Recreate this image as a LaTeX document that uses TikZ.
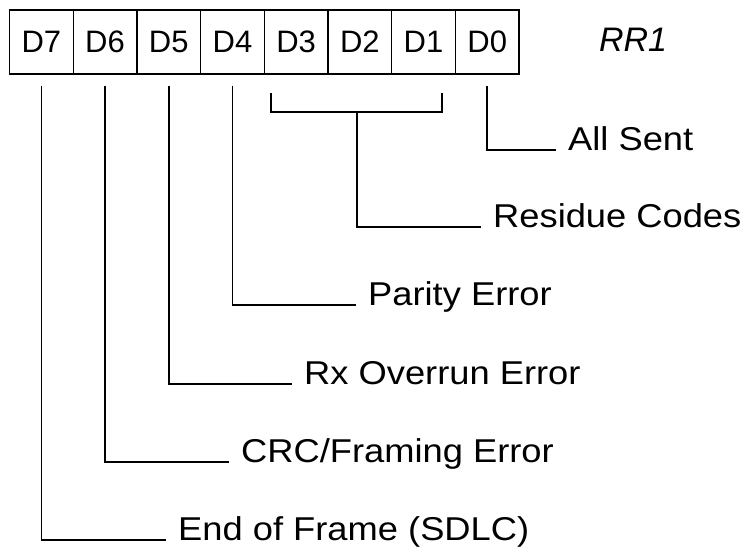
\documentclass[tikz,border=0pt]{standalone}
\usepackage{fontspec}
\setmainfont{Liberation Sans}
\newfontfamily\labfont[FakeStretch=1.1]{Liberation Sans}
\begin{document}
\begin{tikzpicture}[x=1pt,y=-1pt,
  bit/.style={draw,line width=1.3pt,minimum width=63.7pt,minimum height=64pt,inner sep=0pt,
    font=\fontsize{31}{31}\selectfont},
  lab/.style={anchor=base west,inner sep=0pt,font=\labfont\fontsize{33}{33}\selectfont},
  conn/.style={line width=1.7pt}]
\useasboundingbox (0,0) rectangle (743,547);
\foreach \i/\n in {0/7,1/6,2/5,3/4,4/3,5/2,6/1,7/0}{
  \node[bit] (b\n) at ({9.5+31.85+63.7*\i},42) {D\n};
}
\node[inner sep=0pt,font=\itshape\fontsize{34}{34}\selectfont] (rr) at (633,40) {RR1};
\node[lab] (l0) at (568,150) {All Sent};
\node[lab] (l2) at (493,227) {Residue Codes};
\node[lab] (l4) at (368,305) {Parity Error};
\node[lab] (l5) at (304,384) {Rx Overrun Error};
\node[lab] (l6) at (241,462) {CRC/Framing Error};
\node[lab] (l7) at (178,540) {End of Frame (SDLC)};
\coordinate (brL) at (271,93);
\coordinate (brR) at (442,93);
\coordinate (brM) at (357,112);
\draw[conn] (brL) |- (brM) -| (brR);
\draw[conn] (brM) |- ([xshift=-12pt]l2.base west);
\draw[conn] ([yshift=-11pt]b0.south) |- ([xshift=-12pt]l0.base west);
\draw[conn] ([yshift=-11pt]b4.south) |- ([xshift=-12pt]l4.base west);
\draw[conn] ([yshift=-11pt]b5.south) |- ([xshift=-12pt]l5.base west);
\draw[conn] ([yshift=-11pt]b6.south) |- ([xshift=-12pt]l6.base west);
\draw[conn] ([yshift=-11pt]b7.south) |- ([xshift=-12pt]l7.base west);
\end{tikzpicture}
\end{document}
